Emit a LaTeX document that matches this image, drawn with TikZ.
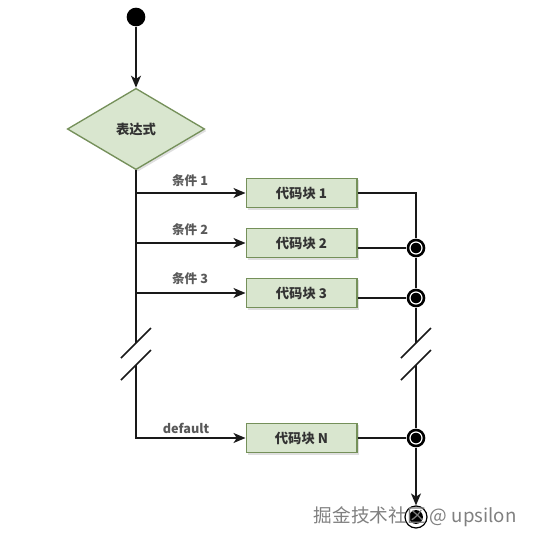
\documentclass[tikz,border=0pt]{standalone}
\usepackage{fontspec}
\setmainfont{Liberation Sans}
\newfontfamily\cjk{Noto Sans CJK SC}
\usetikzlibrary{shapes.geometric,arrows.meta,shadows}
\definecolor{boxfill}{HTML}{D9E6CF}
\definecolor{boxline}{HTML}{75905A}
\begin{document}
\begin{tikzpicture}[x=0.75pt,y=-0.75pt,>={Stealth[length=9pt,width=7.5pt,inset=2.5pt]},
  flow/.style={line width=1.1pt,black!90},
  wire/.style={line width=0.9pt,black!90},
  block/.style={draw=boxline,fill=boxfill,line width=1pt,minimum width=83pt,minimum height=22pt,
    font=\cjk\bfseries\fontsize{10}{12}\selectfont,text=black!80,
    drop shadow={shadow xshift=1.5pt,shadow yshift=-1.5pt,opacity=0.25}},
  test/.style={diamond,aspect=1.7,draw=boxline,fill=boxfill,line width=1pt,minimum width=103pt,
    minimum height=61pt,inner sep=1pt,
    font=\cjk\bfseries\fontsize{10}{12}\selectfont,text=black!80,
    drop shadow={shadow xshift=1.5pt,shadow yshift=-1.5pt,opacity=0.25}},
  cond/.style={font=\cjk\bfseries\fontsize{9.5}{11}\selectfont,text=black!65},
  joint/.style={circle,fill=black,minimum size=14pt,inner sep=0pt,
    path picture={\draw[white,line width=0.9pt] (path picture bounding box.center) circle (4.5pt);}}]
  \useasboundingbox (0,0) rectangle (533,543);
  \node[circle,fill=black,minimum size=14pt,inner sep=0pt] (start) at (136,17) {};
  \node[test] (expr) at (136,129) {表达式};
  \node[block] (b1) at (301.5,193) {代码块 1};
  \node[block] (b2) at (301.5,243) {代码块 2};
  \node[block] (b3) at (301.5,293) {代码块 3};
  \node[block] (bN) at (301.5,438) {代码块 N};
  \node[cond] (c1) at (190,181) {条件 1};
  \node[cond] (c2) at (190,230) {条件 2};
  \node[cond] (c3) at (190,279) {条件 3};
  \node[cond] (cN) at (186,428) {default};
  \node[joint] (j2) at (416,248) {};
  \node[joint] (j3) at (416,298) {};
  \node[joint] (jN) at (416,438) {};
  \node[circle,draw,line width=0.9pt,minimum size=16.5pt,inner sep=0pt,
    path picture={\fill (path picture bounding box.center) circle (5.2pt);}] (end) at (416,517) {};
  \coordinate (cut1) at (136,343);
  \coordinate (cut2) at (136,365);
  \coordinate (cut3) at (416,343);
  \coordinate (cut4) at (416,365);
  \coordinate (bend) at (136,438);
  % main trunk
  \draw[flow,->] (start) -- (expr);
  \draw[flow] (expr.south) -- (cut1);
  \draw[flow,->] (cut2) -- (bend) -- (bN);
  \draw[flow,->] (expr.south |- b1) -- (b1);
  \draw[flow,->] (expr.south |- b2) -- (b2);
  \draw[flow,->] (expr.south |- b3) -- (b3);
  % merge side
  \draw[wire] (b1.east) -| (j2.north);
  \draw[wire] (b2.east |- j2) -- (j2);
  \draw[wire] (b3.east |- j3) -- (j3);
  \draw[wire] (bN.east) -- (jN);
  \draw[wire] (j2) -- (j3);
  \draw[wire] (j3) -- (cut3);
  \draw[wire] (cut4) -- (jN);
  \draw[flow,->] (jN) -- (end);
  % breaks
  \foreach \c in {cut1,cut2,cut3,cut4}
    \draw[flow] ([shift={(-15,15)}]\c) -- ([shift={(15,-15)}]\c);
  \node[anchor=west,text=black!50,font=\cjk\fontsize{14}{16}\selectfont] (mark) at (309,517) {掘金技术社区 @ upsilon};
\end{tikzpicture}
\end{document}
